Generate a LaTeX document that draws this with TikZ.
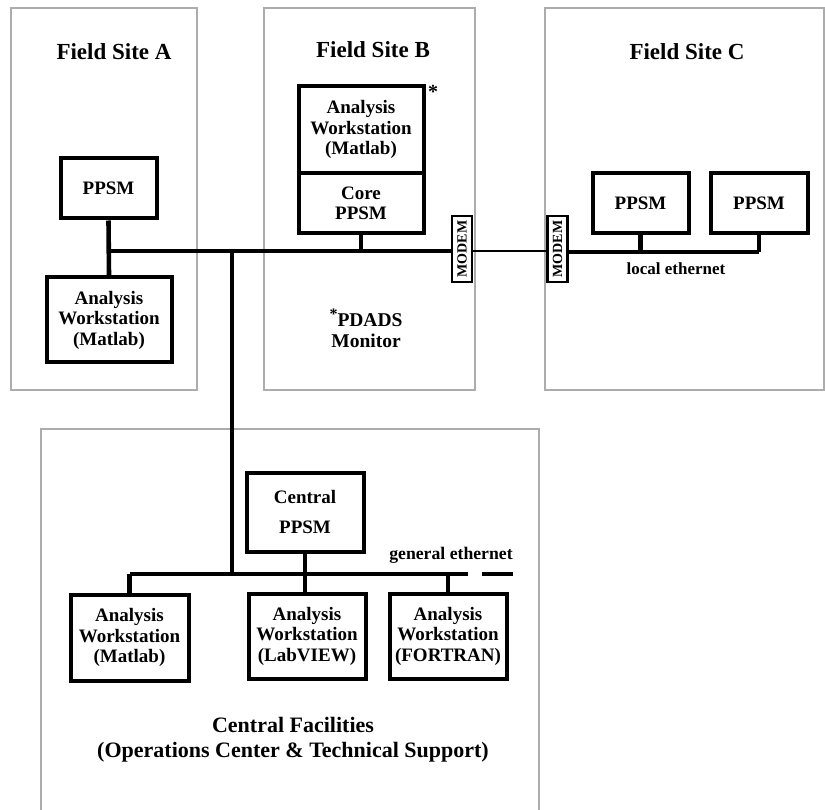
\documentclass[tikz,border=0pt]{standalone}
\usepackage{fontspec}
\setmainfont{Liberation Serif}
\newcommand\boxfnt{\bfseries\fontsize{19}{20.5}\selectfont}
\newcommand\ttlfnt{\bfseries\fontsize{23}{26}\selectfont}
\newcommand\smfnt{\bfseries\fontsize{17}{20}\selectfont}
\newcommand\gfnt{\bfseries\fontsize{17.7}{20}\selectfont}
\newcommand\cfnt{\bfseries\fontsize{22}{25}\selectfont}
\newcommand\pfnt{\bfseries\fontsize{19.5}{21}\selectfont}
\newcommand\mdfnt{\bfseries\fontsize{14}{16}\selectfont}
\begin{document}
\begin{tikzpicture}[x=1pt,y=-1pt,
  site/.style={draw=gray!65, line width=1.6pt},
  dev/.style={draw, line width=4pt, inner sep=0pt, align=center, font=\boxfnt},
  modembox/.style={draw, line width=2.4pt, inner sep=0pt, minimum width=20, minimum height=66},
  bus/.style={line width=4.6pt},
  thinlink/.style={line width=2.6pt},
  title/.style={font=\ttlfnt, inner sep=0pt},
  lbl/.style={font=\smfnt, inner sep=0pt, align=center}]
\useasboundingbox (0,0) rectangle (825,810);

% site boxes
\draw[site] (11,8) rectangle (197,390);
\draw[site] (264,8) rectangle (475,390);
\draw[site] (545,8) rectangle (824,390);
\draw[site] (41,429) rectangle (539,830);

% titles
\node[title] (tA) at (114,52) {Field Site A};
\node[title] (tB) at (373,50) {Field Site B};
\node[title] (tC) at (687,52) {Field Site C};

% Site A
\node[dev, minimum width=96, minimum height=60] (appsm) at (108.5,188.5) {PPSM};
\node[dev, minimum width=125, minimum height=85] (aws) at (109,320) {Analysis\\Workstation\\(Matlab)};

% Site B
\node[dev, minimum width=125, minimum height=86.5] (bws) at (361,129.75) {Analysis\\Workstation\\(Matlab)};
\node[dev, minimum width=125, minimum height=60.5] (bcore) at (361,203.25) {Core\\PPSM};
\node[font=\bfseries\fontsize{20}{20}\selectfont, inner sep=0pt] (bstar) at (433,92) {*};
\node[font=\pfnt, inner sep=0pt, align=center] (pdads) at (366,328) {\raisebox{7pt}{\fontsize{16}{16}\selectfont *}PDADS\\Monitor};

% modems
\node[modembox] (m1) at (462,249) {};
\node[font=\mdfnt, rotate=90, inner sep=0pt] (m1t) at (m1.center) {MODEM};
\node[modembox] (m2) at (557.5,249) {};
\node[font=\mdfnt, rotate=90, inner sep=0pt] (m2t) at (m2.center) {MODEM};

% Site C
\node[dev, minimum width=96, minimum height=60] (cp1) at (640.5,203.5) {PPSM};
\node[dev, minimum width=97, minimum height=60] (cp2) at (759,203.5) {PPSM};
\node[lbl] (leth) at (676,269) {local ethernet};

% Central
\node[dev, minimum width=117, minimum height=79] (cppsm) at (305,512) {Central\\[9pt]PPSM};
\node[dev, minimum width=118, minimum height=86] (mws) at (129.5,637.5) {Analysis\\Workstation\\(Matlab)};
\node[dev, minimum width=117, minimum height=85] (lws) at (307,636) {Analysis\\Workstation\\(LabVIEW)};
\node[dev, minimum width=117, minimum height=85] (fws) at (448,636) {Analysis\\Workstation\\(FORTRAN)};
\node[font=\gfnt, inner sep=0pt] (geth) at (451,555) {general ethernet};
\node[font=\cfnt, inner sep=0pt, align=center] (cf) at (293,740) {Central Facilities\\(Operations Center \& Technical Support)};

% network coordinates
\coordinate (busA) at (108.5,251);
\coordinate (tTop) at (232,251);
\coordinate (tBot) at (232,574);
\coordinate (gEnd) at (468,574);
\coordinate (dashA) at (482,574);
\coordinate (dashB) at (513,574);

% Site A / B wiring
\draw[bus] (appsm.south) -- (aws.north);
\draw[bus] (busA) -- (busA -| m1.west);
\draw[bus] (bcore.south) -- (bcore.south |- busA);
\draw[bus] (tTop) -- (tBot);

% modem link
\draw[thinlink] (m1.east |- busA) -- (m2.west |- busA);

% Site C wiring
\coordinate (busC) at (569,252);
\draw[bus] (m2.east |- busC) -- (busC -| cp2.south);
\draw[bus] (cp1.south) -- (cp1.south |- busC);
\draw[bus] (cp2.south) -- (cp2.south |- busC);

% Central wiring
\draw[bus] (mws.north |- tBot) -- (gEnd);
\draw[bus] (dashA) -- (dashB);
\draw[bus] (mws.north) -- (mws.north |- tBot);
\draw[bus] (cppsm.south) -- (cppsm.south |- lws.north);
\draw[bus] (fws.north) -- (fws.north |- tBot);
\end{tikzpicture}
\end{document}
